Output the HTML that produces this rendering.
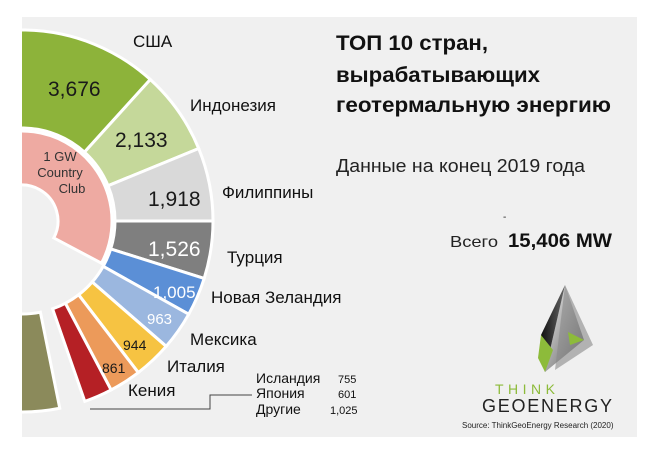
<!DOCTYPE html>
<html><head><meta charset="utf-8"><style>
html,body{margin:0;padding:0;background:#fff;}
svg{display:block;font-family:"Liberation Sans","DejaVu Sans",sans-serif;}
</style></head><body>
<svg id="s" width="660" height="456" viewBox="0 0 660 456" xmlns="http://www.w3.org/2000/svg">
<defs><clipPath id="c"><rect x="22" y="17" width="615" height="420"/></clipPath>
<linearGradient id="g1" x1="0" y1="0" x2="1" y2="1"><stop offset="0" stop-color="#f4f4f4"/><stop offset="1" stop-color="#555"/></linearGradient>
<linearGradient id="g2" x1="0" y1="0" x2="1" y2="0"><stop offset="0" stop-color="#111"/><stop offset="1" stop-color="#666"/></linearGradient>
</defs>
<rect x="22" y="17" width="615" height="420" fill="#f0f0f0"/>
<g id="donut" clip-path="url(#c)"></g>
<g font-size="21" fill="#1a1a1a">
<text x="48" y="96">3,676</text>
<text x="115" y="147">2,133</text>
<text x="148" y="206">1,918</text>
<text x="148" y="256" fill="#fff">1,526</text>
<text x="153" y="298" font-size="17" fill="#fff">1,005</text>
<text x="147" y="324" font-size="15" fill="#fff">963</text>
<text x="123" y="350" font-size="14">944</text>
<text x="102" y="373" font-size="14">861</text>
</g>
<g font-size="13" fill="#333" text-anchor="middle">
<text x="60" y="161">1 GW</text>
<text x="60" y="177">Country</text>
<text x="72" y="193">Club</text>
</g>
<g font-size="17" fill="#111">
<text x="133" y="47">США</text>
<text x="190" y="111">Индонезия</text>
<text x="222" y="198">Филиппины</text>
<text x="227" y="263">Турция</text>
<text x="211" y="303">Новая Зеландия</text>
<text x="190" y="345">Мексика</text>
<text x="167" y="372">Италия</text>
<text x="128" y="396">Кения</text>
</g>
<g font-size="14" fill="#111">
<text x="256" y="383">Исландия</text>
<text x="256" y="398">Япония</text>
<text x="256" y="414">Другие</text>
</g>
<g font-size="11" fill="#111">
<text x="338" y="383">755</text>
<text x="338" y="398">601</text>
<text x="330" y="414">1,025</text>
</g>
<polyline points="90,409 210,409 210,395 252,395" fill="none" stroke="#444" stroke-width="1"/>
<g font-size="21" font-weight="bold" fill="#111">
<text x="336" y="50" textLength="152" lengthAdjust="spacingAndGlyphs">ТОП 10 стран,</text>
<text x="336" y="82" textLength="204" lengthAdjust="spacingAndGlyphs">вырабатывающих</text>
<text x="336" y="112" textLength="275" lengthAdjust="spacingAndGlyphs">геотермальную энергию</text>
</g>
<text x="336" y="172" font-size="18" fill="#222" textLength="249" lengthAdjust="spacingAndGlyphs">Данные на конец 2019 года</text>
<text x="450" y="247" font-size="16" fill="#222" textLength="48" lengthAdjust="spacingAndGlyphs">Всего</text>
<text x="503" y="220" font-size="10" fill="#222">-</text>
<text x="508" y="247" font-size="19" font-weight="bold" fill="#111" textLength="104" lengthAdjust="spacingAndGlyphs">15,406 MW</text>
<polygon points="565,285 584,340 545,372" fill="url(#g1)"/>
<polygon points="565,285 545,372 541,335" fill="url(#g2)"/>
<polygon points="565,285 593,345 555,370" fill="#888" opacity="0.6"/>
<polygon points="568,332 584,340 570,345" fill="#8dbb3a"/>
<polygon points="541,335 553,350 545,372 538,358" fill="#8dbb3a"/>
<text x="495" y="394" font-size="14" fill="#8dbb3a" textLength="60" lengthAdjust="spacing">THINK</text>
<text x="482" y="412" font-size="18" fill="#222" textLength="130" lengthAdjust="spacing">GEOENERGY</text>
<text x="462" y="428" font-size="8" fill="#222">Source: ThinkGeoEnergy Research (2020)</text>
</svg>
<script>
var cx=22,cy=221,ns="http://www.w3.org/2000/svg",g=document.getElementById("donut");
function P(r,a){a=a*Math.PI/180;return [cx+r*Math.sin(a),cy-r*Math.cos(a)];}
function arc(r0,r1,a0,a1,col){var p=[P(r1,a0),P(r1,a1),P(r0,a1),P(r0,a0)];var l=(a1-a0)>180?1:0;
var d="M"+p[0]+"A"+r1+","+r1+" 0 "+l+" 1 "+p[1]+"L"+p[2]+"A"+r0+","+r0+" 0 "+l+" 0 "+p[3]+"Z";
var e=document.createElementNS(ns,"path");e.setAttribute("d",d);e.setAttribute("fill",col);e.setAttribute("stroke","#fff");e.setAttribute("stroke-width","3");g.appendChild(e);}
var segs=[[-40,42.2,"#8db33a"],[42.2,67.7,"#c5d89a"],[67.7,90,"#d9d9d9"],[90,107.5,"#7f7f7f"],[107.5,119.2,"#5b8fd6"],[119.2,131,"#9bb7df"],[131,142.5,"#f6c342"],[142.5,152.2,"#ec9a5a"],[152.2,160.8,"#b52025"],[168.6,200,"#8b8a5b"]];
segs.forEach(function(s){arc(93,191,s[0],s[1],s[2]);});
arc(36,90,-60,118,"#eeaaa2");
</script>
</body></html>
